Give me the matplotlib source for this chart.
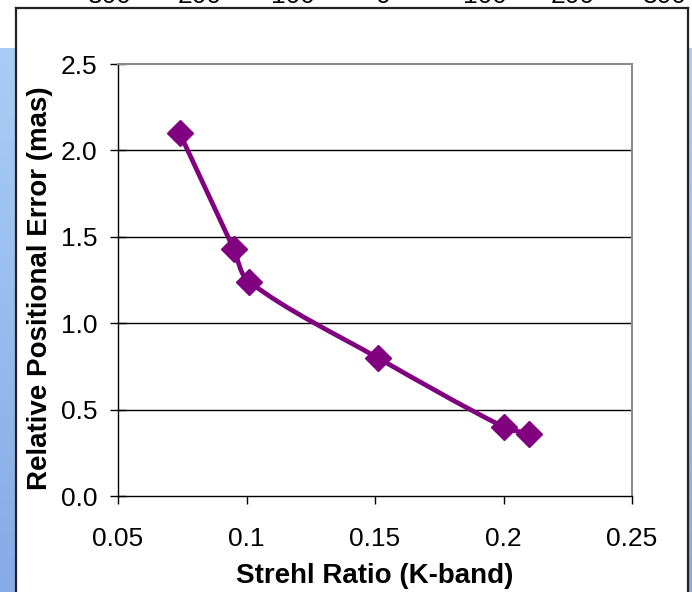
import numpy as np
import matplotlib
matplotlib.use("Agg")
import matplotlib.pyplot as plt
from matplotlib.path import Path
from matplotlib.patches import PathPatch
from matplotlib.lines import Line2D

plt.rcParams['font.family'] = ['Liberation Sans', 'DejaVu Sans']

# Strehl ratio vs relative positional error
strehl = [0.074, 0.095, 0.101, 0.151, 0.200, 0.210]
pos_error = [2.10, 1.43, 1.24, 0.80, 0.40, 0.36]

x_ticks = [0.05, 0.1, 0.15, 0.2, 0.25]
x_tick_labels = ['0.05', '0.1', '0.15', '0.2', '0.25']
y_ticks = [0.0, 0.5, 1.0, 1.5, 2.0, 2.5]
top_labels = ['300', '200', '100', '0', '100', '200', '300']

W, H = 692, 592
fig = plt.figure(figsize=(W / 100, H / 100), dpi=100, facecolor='white')


def fx(px):
    return px / W


def fy(py):
    return 1 - py / H


# blue slide background on both sides
grad = np.linspace(0, 1, 256).reshape(-1, 1)
cmap = matplotlib.colors.LinearSegmentedColormap.from_list('slide', ['#aacdf6', '#86abe6'])
for x0, x1 in [(0, 16), (688, 692)]:
    bg = fig.add_axes([fx(x0), 0, fx(x1 - x0), fy(48)])
    bg.imshow(grad, aspect='auto', cmap=cmap, extent=[0, 1, 0, 1])
    bg.set_axis_off()

# white panel border
for (xa, ya), (xb, yb) in [((16, 8), (688, 8)), ((16, 8), (16, 600)), ((688, 8), (688, 600))]:
    fig.add_artist(Line2D([fx(xa), fx(xb)], [fy(ya), fy(yb)], color='#222222', lw=1.6,
                          transform=fig.transFigure))

# axis labels of the chart above, cut off at the top edge
for cx, lab in zip([110, 200, 293, 383, 485, 573, 665], top_labels):
    fig.text(fx(cx), fy(3), lab, ha='center', va='baseline', fontsize=19)

ax = fig.add_axes([fx(118), fy(496), fx(632 - 118), fy(64) - fy(496)])
ax.set_xlim(0.05, 0.25)
ax.set_ylim(0, 2.5)

for y in y_ticks[1:-1]:
    ax.axhline(y, color='black', lw=1.0, zorder=1)

# smoothed line through the points: cubic Bezier segments whose handles follow
# the neighbour direction and scale with the segment length (in screen units)
sx, sy = 514 / 0.2, 432 / 2.5
pts = np.column_stack([np.array(strehl) * sx, np.array(pos_error) * sy])
n = len(pts)
tang = []
for i in range(n):
    d = pts[min(i + 1, n - 1)] - pts[max(i - 1, 0)]
    tang.append(d / np.hypot(*d))
verts = [tuple(pts[0])]
codes = [Path.MOVETO]
for i in range(n - 1):
    seg = np.hypot(*(pts[i + 1] - pts[i])) / 3
    c1 = pts[i] + tang[i] * seg
    c2 = pts[i + 1] - tang[i + 1] * seg
    verts += [tuple(c1), tuple(c2), tuple(pts[i + 1])]
    codes += [Path.CURVE4] * 3
verts = [(vx / sx, vy / sy) for vx, vy in verts]
ax.add_patch(PathPatch(Path(verts, codes), fill=False, edgecolor='#800080', lw=3.4,
                       capstyle='round', joinstyle='round', zorder=3))
ax.plot(strehl, pos_error, linestyle='none', marker='D', markersize=13,
        color='#800080', zorder=4)

ax.set_xticks(x_ticks)
ax.set_xticklabels(x_tick_labels)
ax.set_yticks(y_ticks)
ax.set_yticklabels(['%.1f' % v for v in y_ticks])
ax.tick_params(axis='x', direction='out', length=6, width=1, pad=16, labelsize=19)
ax.tick_params(axis='y', direction='inout', length=12, width=1, pad=9, labelsize=19)

for side in ['top', 'right']:
    ax.spines[side].set_color('#8c8c8c')
    ax.spines[side].set_linewidth(1.5)
for side in ['bottom', 'left']:
    ax.spines[side].set_color('black')
    ax.spines[side].set_linewidth(1.0)

fig.text(fx(375), fy(576), 'Strehl Ratio (K-band)', ha='center', va='center',
         fontsize=20, fontweight='bold')
fig.text(fx(40), fy(288), 'Relative Positional Error (mas)', ha='center', va='center',
         rotation=90, fontsize=20, fontweight='bold')

fig.savefig('out.png', dpi=100, facecolor='white')
